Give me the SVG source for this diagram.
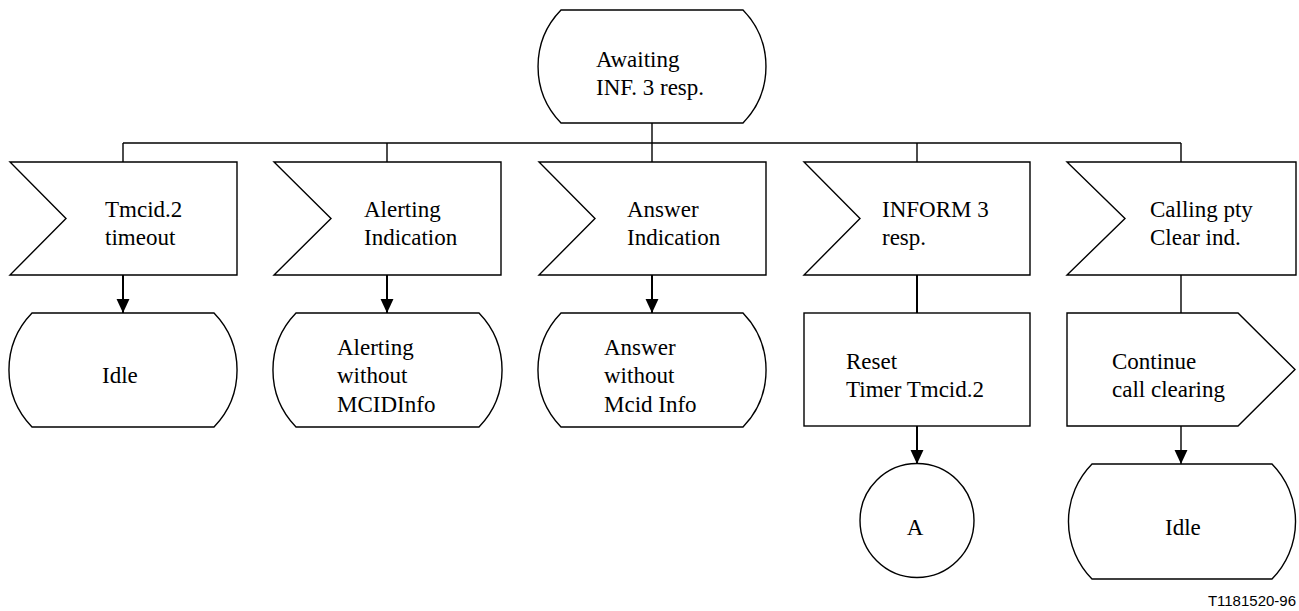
<svg xmlns="http://www.w3.org/2000/svg" width="1299" height="611" viewBox="0 0 1299 611">
<style>
  .shape { fill: #ffffff; stroke: #000000; stroke-width: 1.4; }
  .txt { font-family: "Liberation Serif", "Times New Roman", serif; font-size: 23px; fill: #000000; }
  .code { font-family: "Liberation Sans", Arial, sans-serif; font-size: 15px; fill: #000000; }
  .bus { fill: none; stroke: #000000; stroke-width: 1.4; }
  .arrow { fill: none; stroke: #000000; stroke-width: 2; }
</style>
<defs>
  <marker id="ah" markerUnits="userSpaceOnUse" markerWidth="14" markerHeight="14" viewBox="0 0 13 12" refX="13" refY="6" orient="auto">
    <path d="M0,0 L13,6 L0,12 Z" fill="#000000"/>
  </marker>
</defs>

<g id="connectors">
  <line class="bus" x1="652" y1="123" x2="652" y2="162"/>
  <line class="bus" x1="123" y1="143" x2="1181" y2="143"/>
  <line class="bus" x1="123" y1="143" x2="123" y2="162"/>
  <line class="bus" x1="387" y1="143" x2="387" y2="162"/>
  <line class="bus" x1="917" y1="143" x2="917" y2="162"/>
  <line class="bus" x1="1181" y1="143" x2="1181" y2="162"/>
  <line class="arrow" x1="123" y1="275" x2="123" y2="313" marker-end="url(#ah)"/>
  <line class="arrow" x1="387" y1="275" x2="387" y2="313" marker-end="url(#ah)"/>
  <line class="arrow" x1="652" y1="275" x2="652" y2="313" marker-end="url(#ah)"/>
  <line class="arrow" x1="917" y1="275" x2="917" y2="313"/>
  <line class="bus" x1="1181" y1="275" x2="1181" y2="313"/>
  <line class="arrow" x1="917" y1="426" x2="917" y2="464" marker-end="url(#ah)"/>
  <line class="bus" x1="1181" y1="426" x2="1181" y2="464" marker-end="url(#ah)"/>
</g>

<g id="state-awaiting">
  <path class="shape" d="M561,10 H743 A81,81 0 0 1 743,123 H561 A81,81 0 0 1 561,10 Z"/>
  <text class="txt" x="596" y="67">Awaiting</text>
  <text class="txt" x="596" y="95">INF. 3 resp.</text>
</g>

<g id="input-tmcid-timeout">
  <polygon class="shape" points="10,162 237,162 237,275 10,275 66,218.5"/>
  <text class="txt" x="105" y="217">Tmcid.2</text>
  <text class="txt" x="105" y="245">timeout</text>
</g>

<g id="input-alerting">
  <polygon class="shape" points="274,162 501,162 501,275 274,275 331,218.5"/>
  <text class="txt" x="364" y="217">Alerting</text>
  <text class="txt" x="364" y="245">Indication</text>
</g>

<g id="input-answer">
  <polygon class="shape" points="539,162 766,162 766,275 539,275 595,218.5"/>
  <text class="txt" x="627" y="217">Answer</text>
  <text class="txt" x="627" y="245">Indication</text>
</g>

<g id="input-inform3">
  <polygon class="shape" points="804,162 1030,162 1030,275 804,275 860,218.5"/>
  <text class="txt" x="882" y="217">INFORM 3</text>
  <text class="txt" x="882" y="245">resp.</text>
</g>

<g id="input-calling-clear">
  <polygon class="shape" points="1067,162 1296,162 1296,275 1067,275 1125,218.5"/>
  <text class="txt" x="1150" y="217">Calling pty</text>
  <text class="txt" x="1150" y="245">Clear ind.</text>
</g>

<g id="state-idle-1">
  <path class="shape" d="M32,313 H214 A82,82 0 0 1 214,427 H32 A82,82 0 0 1 32,313 Z"/>
  <text class="txt" x="102" y="383">Idle</text>
</g>

<g id="state-alerting-without">
  <path class="shape" d="M296,313 H479 A82,82 0 0 1 479,427 H296 A82,82 0 0 1 296,313 Z"/>
  <text class="txt" x="337" y="355">Alerting</text>
  <text class="txt" x="337" y="383">without</text>
  <text class="txt" x="337" y="412">MCIDInfo</text>
</g>

<g id="state-answer-without">
  <path class="shape" d="M561,313 H743 A82,82 0 0 1 743,427 H561 A82,82 0 0 1 561,313 Z"/>
  <text class="txt" x="604" y="355">Answer</text>
  <text class="txt" x="604" y="383">without</text>
  <text class="txt" x="604" y="412">Mcid Info</text>
</g>

<g id="task-reset-timer">
  <rect class="shape" x="804" y="313" width="226" height="113"/>
  <text class="txt" x="846" y="369">Reset</text>
  <text class="txt" x="846" y="397">Timer Tmcid.2</text>
</g>

<g id="output-continue-clearing">
  <polygon class="shape" points="1067,313 1238,313 1295,369.5 1238,426 1067,426"/>
  <text class="txt" x="1112" y="369">Continue</text>
  <text class="txt" x="1112" y="397">call clearing</text>
</g>

<g id="connector-a">
  <circle class="shape" cx="917" cy="520.5" r="57"/>
  <text class="txt" x="915" y="535" text-anchor="middle">A</text>
</g>

<g id="state-idle-2">
  <path class="shape" d="M1092,464 H1272 A82,82 0 0 1 1272,579 H1092 A82,82 0 0 1 1092,464 Z"/>
  <text class="txt" x="1165" y="535">Idle</text>
</g>

<text class="code" x="1296" y="606" text-anchor="end">T1181520-96</text>
</svg>
